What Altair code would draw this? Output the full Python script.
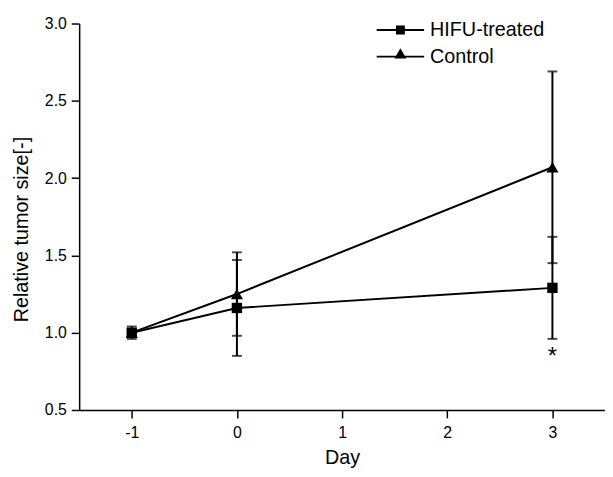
import altair as alt
import pandas as pd

# ---- data ----
series_names = ["HIFU-treated", "Control"]
days = [-1, 0, 3]
hifu_mean = [1.00, 1.16, 1.29]
hifu_err = [0.02, 0.31, 0.33]
control_mean = [1.00, 1.25, 2.07]
control_err = [0.04, 0.27, 0.62]
x_ticks = [-1, 0, 1, 2, 3]
y_ticks = [0.5, 1.0, 1.5, 2.0, 2.5, 3.0]
star_day = [3]
star_y = [0.84]
star_text = ["*"]

rows = []
for name, means, errs in [(series_names[0], hifu_mean, hifu_err),
                          (series_names[1], control_mean, control_err)]:
    for d, m, e in zip(days, means, errs):
        rows.append({"series": name, "day": d, "mean": m, "lo": m - e, "hi": m + e})
df = pd.DataFrame(rows)
star_df = pd.DataFrame({"day": star_day, "y": star_y, "t": star_text})

FONT = "Liberation Sans"
YTITLE = "Relative tumor size[-]"

xs = alt.Scale(domain=[-1.5, 3.5], nice=False, zero=False)
ys = alt.Scale(domain=[0.5, 3.0], nice=False, zero=False)

X = alt.X("day:Q", scale=xs,
          axis=alt.Axis(values=x_ticks, labelExpr="'' + datum.value", title="Day",
                        labelPadding=7, titleBaseline="alphabetic", titleY=54))
Y_AX = alt.Axis(values=y_ticks, format=".1f", title=YTITLE, labelPadding=5,
                titleX=-52, titleY=208, titleAngle=270, titleAlign="center",
                titleBaseline="alphabetic")

base = alt.Chart(df)

lines = base.mark_line(color="black", strokeWidth=2).encode(
    x=X, y=alt.Y("mean:Q", scale=ys, axis=Y_AX, title=YTITLE), detail="series:N")

rules = base.mark_rule(color="black", strokeWidth=2).encode(
    x=X, y=alt.Y("lo:Q", scale=ys, title=YTITLE), y2="hi:Q")

cap_lo = base.mark_tick(orient="horizontal", color="black", size=10, thickness=2).encode(
    x=X, y=alt.Y("lo:Q", scale=ys, title=YTITLE))
cap_hi = base.mark_tick(orient="horizontal", color="black", size=10, thickness=2).encode(
    x=X, y=alt.Y("hi:Q", scale=ys, title=YTITLE))

sq = base.transform_filter(alt.datum.series == series_names[0]).mark_point(
    shape="square", filled=True, color="black", size=110, opacity=1).encode(
    x=X, y=alt.Y("mean:Q", scale=ys, title=YTITLE))
tri = base.transform_filter(alt.datum.series == series_names[1]).mark_point(
    shape="triangle-up", filled=True, color="black", size=150, opacity=1).encode(
    x=X, y=alt.Y("mean:Q", scale=ys, title=YTITLE))

# legend glyphs: a thin filled bar (the line) plus the marker, all filled shapes
path_h = ("M-2.4,-0.1L2.4,-0.1L2.4,0.1L-2.4,0.1Z"
          "M-0.45,-0.45L0.45,-0.45L0.45,0.45L-0.45,0.45Z")
path_c = ("M-2.4,-0.1L2.4,-0.1L2.4,0.1L-2.4,0.1Z"
          "M0,-0.85L0.6,0.2L-0.6,0.2Z")

legend_layer = base.mark_point(filled=True, color="black", opacity=0).encode(
    x=X, y=alt.Y("mean:Q", scale=ys, title=YTITLE),
    shape=alt.Shape("series:N",
                    scale=alt.Scale(domain=series_names, range=[path_h, path_c]),
                    legend=alt.Legend(
                        title=None, orient="none", legendX=315, legendY=-3.5,
                        symbolSize=400, symbolOpacity=1, symbolFillColor="black",
                        symbolStrokeWidth=0,
                        labelFontSize=20, labelFont=FONT, labelColor="black",
                        labelOffset=20, rowPadding=7, padding=0)))

star = alt.Chart(star_df).mark_text(fontSize=24, font=FONT, color="black",
                                    align="center", baseline="middle").encode(
    x=alt.X("day:Q", scale=xs), y=alt.Y("y:Q", scale=ys, title=YTITLE), text="t:N")

chart = alt.layer(lines, rules, cap_lo, cap_hi, sq, tri, legend_layer, star).resolve_scale(
    shape="independent"
).properties(
    width=532, height=391,
    autosize=alt.AutoSizeParams(type="none"),
    padding={"left": 72, "top": 13, "right": 0, "bottom": 57},
).configure_view(stroke=None).configure_axis(
    grid=False, domainColor="black", tickColor="black", labelColor="black",
    titleColor="black", labelFont=FONT, titleFont=FONT, labelFontSize=16,
    titleFontSize=20, titleFontWeight="normal", domainWidth=1.5, tickWidth=1.5,
    tickSize=8
)

chart.save("out.html", embed_options={"renderer": "svg", "actions": False})
